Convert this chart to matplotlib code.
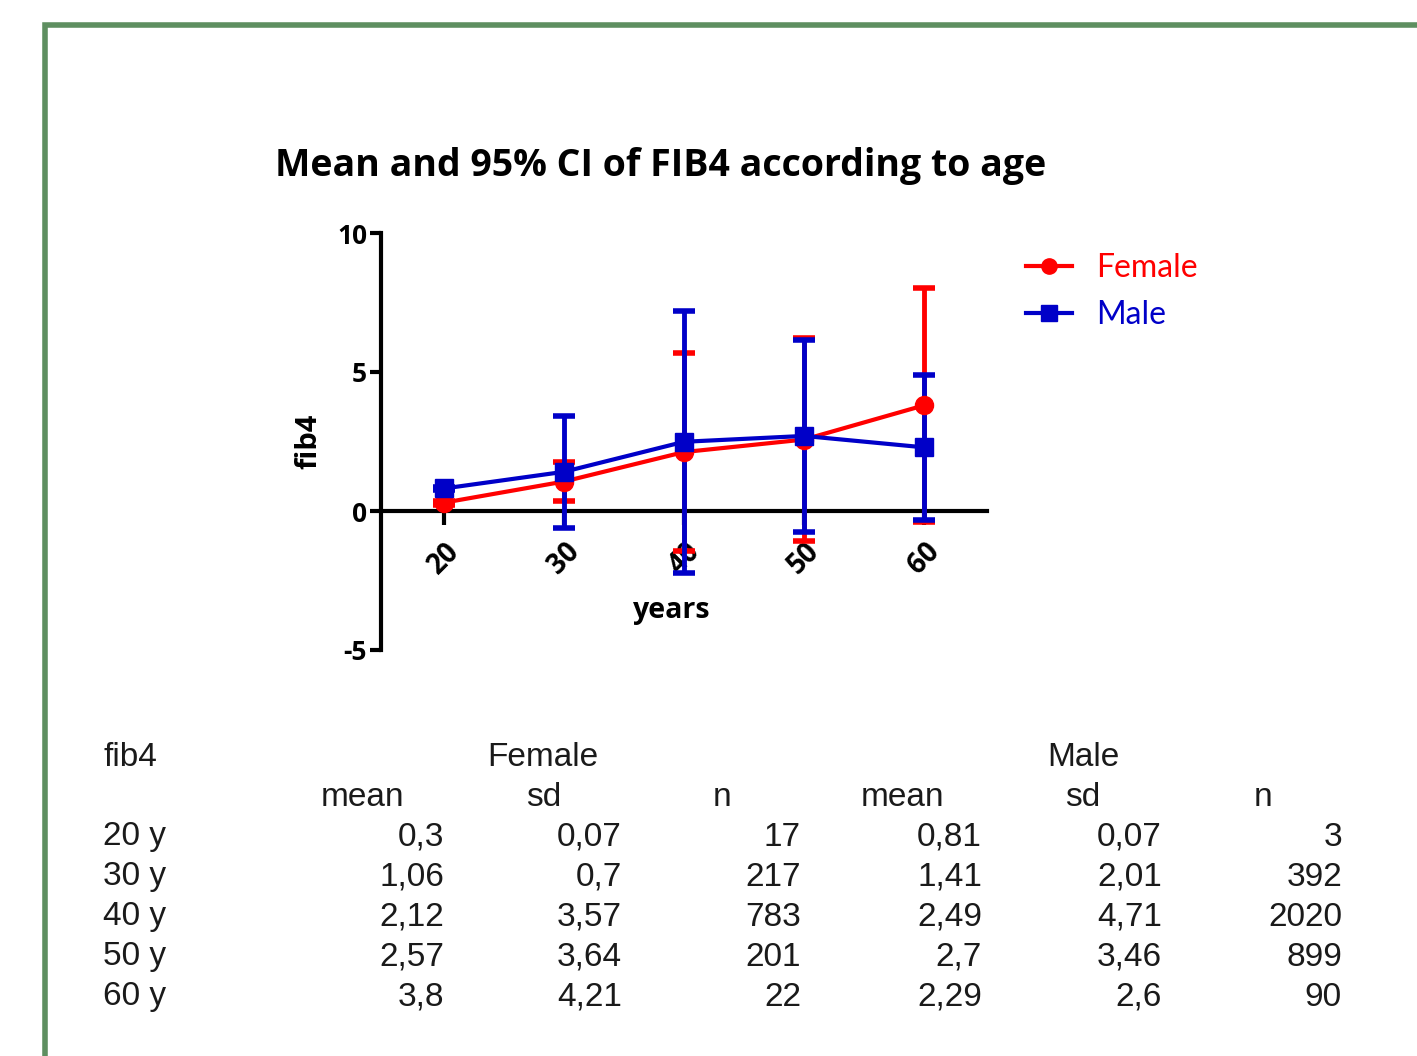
import matplotlib
matplotlib.use("Agg")
import matplotlib.pyplot as plt
from matplotlib.lines import Line2D

plt.rcParams["axes.unicode_minus"] = False

ages = [20, 30, 40, 50, 60]
row_labels = ["20 y", "30 y", "40 y", "50 y", "60 y"]

female_mean = [0.3, 1.06, 2.12, 2.57, 3.8]
female_sd = [0.07, 0.7, 3.57, 3.64, 4.21]
female_n = [17, 217, 783, 201, 22]

male_mean = [0.81, 1.41, 2.49, 2.7, 2.29]
male_sd = [0.07, 2.01, 4.71, 3.46, 2.6]
male_n = [3, 392, 2020, 899, 90]

RED = "#FF0000"
BLUE = "#0000C8"
GREEN = "#5E8F60"


def fmt(v):
    return str(v).replace(".", ",")


def main():
    fig = plt.figure(figsize=(14.17, 10.56), dpi=100)
    W, H = 1417, 1056

    # green frame (left and top edges)
    fig.add_artist(Line2D([45 / W, 45 / W, 1.0], [0.0, 1 - 25 / H, 1 - 25 / H],
                          transform=fig.transFigure, color=GREEN, lw=4,
                          solid_joinstyle="miter"))

    ax = fig.add_axes([381 / W, 1 - 650 / H, 606 / W, 417 / H])

    for mean, sd, col, mk in [(female_mean, female_sd, RED, "o"),
                              (male_mean, male_sd, BLUE, "s")]:
        ax.errorbar(ages, mean, yerr=sd, color=col, marker=mk, markersize=13,
                    lw=3, elinewidth=3.5, capsize=8, capthick=4)

    ax.set_xlim(14.75, 65.25)
    ax.set_ylim(-5, 10)
    ax.set_yticks([-5, 0, 5, 10])
    ax.set_xticks(ages)
    for s in ["top", "right"]:
        ax.spines[s].set_visible(False)
    ax.spines["left"].set_linewidth(3)
    ax.spines["bottom"].set_position(("data", 0))
    ax.spines["bottom"].set_linewidth(3)
    ax.spines["bottom"].set_zorder(0.5)
    ax.tick_params(axis="y", width=3, length=8, labelsize=19, pad=2)
    ax.tick_params(axis="x", width=3, length=10, labelsize=20, pad=9)
    for lab in ax.get_yticklabels() + ax.get_xticklabels():
        lab.set_fontweight("bold")
        lab.set_family("Open Sans")
    for lab in ax.get_xticklabels():
        lab.set_rotation(45)

    ax.set_ylabel("fib4", fontsize=21, fontweight="bold", family="Open Sans", labelpad=10)
    ax.set_xlabel("years", fontsize=20.5, fontweight="bold", family="Open Sans")
    ax.xaxis.set_label_coords(0.48, 0.13)

    fig.text(661 / W, 1 - 166 / H, "Mean and 95% CI of FIB4 according to age",
             ha="center", va="center", fontsize=27, fontweight="bold", family="Open Sans")

    handles = [Line2D([], [], color=RED, marker="o", lw=3, markersize=11),
               Line2D([], [], color=BLUE, marker="s", lw=3, markersize=11)]
    fig.legend(handles, ["Female", "Male"], loc="upper left",
               bbox_to_anchor=(997 / W, 1 - 224 / H), frameon=False,
               labelcolor=[RED, BLUE], prop={"family": "Lato", "size": 23},
               handlelength=1.45, handletextpad=0.75, labelspacing=0.55)

    # table below the chart
    tkw = dict(fontsize=24, family="Liberation Sans", color="#1a1a1a", va="center")
    fig.text(103 / W, 1 - 757 / H, "fib4", ha="left", **tkw)
    fig.text(543 / W, 1 - 757 / H, "Female", ha="center", **tkw)
    fig.text(1083 / W, 1 - 757 / H, "Male", ha="center", **tkw)
    for x, h in zip([362, 544, 722, 902, 1083, 1263], ["mean", "sd", "n"] * 2):
        fig.text(x / W, 1 - 797 / H, h, ha="center", **tkw)
    cols = [female_mean, female_sd, female_n, male_mean, male_sd, male_n]
    col_x = [444, 622, 801, 982, 1162, 1342]
    for i, lab in enumerate(row_labels):
        y = 1 - (837 + 40 * i) / H
        fig.text(103 / W, y, lab, ha="left", **tkw)
        for cx, col in zip(col_x, cols):
            fig.text(cx / W, y, fmt(col[i]), ha="right", **tkw)

    fig.savefig("out.png", dpi=100)


if __name__ == "__main__":
    main()
